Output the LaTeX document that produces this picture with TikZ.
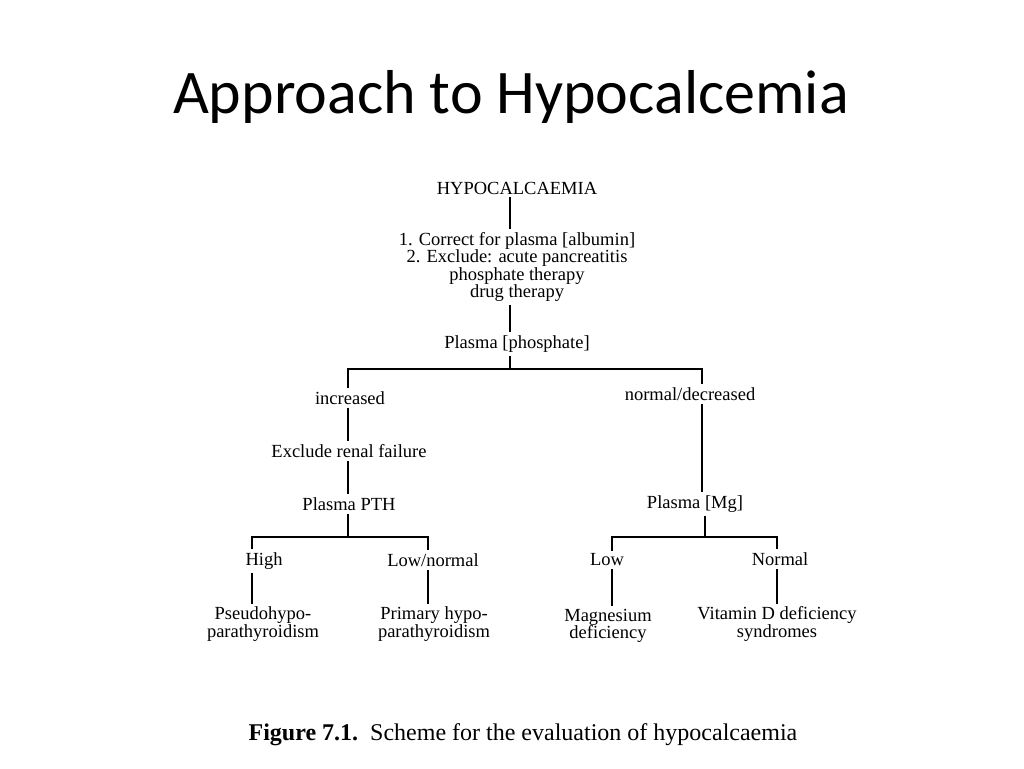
\documentclass[tikz,border=0pt]{standalone}
\usepackage{fontspec}
\setmainfont{Liberation Serif}
\newfontfamily\titlefont{Carlito}
\begin{document}
\begin{tikzpicture}[x=1pt,y=-1pt,
  lbl/.style={font=\fontsize{18.5}{17.5}\selectfont, inner sep=3pt, align=center},
  ln/.style={line width=1.2pt, black}]
\useasboundingbox (0,0) rectangle (1024,768);
\fill[white] (0,0) rectangle (1024,768);
\node[font=\titlefont\fontsize{62}{70}\selectfont] (title) at (511,97) {Approach to Hypocalcemia};
% column coordinates
\coordinate (cx) at (510,0);
\coordinate (lx) at (348,0);
\coordinate (rx) at (702,0);
\coordinate (hx) at (252,0);
\coordinate (lnx) at (428,0);
\coordinate (mlx) at (612,0);
\coordinate (mnx) at (777,0);
\coordinate (mx) at (705,0);
\coordinate (bar1) at (0,369);
\coordinate (bar2) at (0,537);
% nodes
\node[lbl] (hyp) at (517,188) {HYPOCALCAEMIA};
\node[lbl] (steps) at (517,267) {1. Correct for plasma [albumin]\\2. Exclude: acute pancreatitis\\phosphate therapy\\drug therapy};
\node[lbl] (pp) at (517,344) {Plasma [phosphate]};
\node[lbl] (inc) at (350,398) {increased};
\node[lbl] (nd) at (690,394) {normal/decreased};
\node[lbl] (ren) at (349,451) {Exclude renal failure};
\node[lbl] (pth) at (349,504) {Plasma PTH};
\node[lbl] (mg) at (695,504) {Plasma [Mg]};
\node[lbl] (high) at (264,561) {High};
\node[lbl] (lown) at (433,560) {Low/normal};
\node[lbl] (low) at (607,560) {Low};
\node[lbl] (norm) at (780,559) {Normal};
\node[lbl] (pseudo) at (263,624) {Pseudohypo-\\parathyroidism};
\node[lbl] (prim) at (434,624) {Primary hypo-\\parathyroidism};
\node[lbl] (magd) at (608,626) {Magnesium\\deficiency};
\node[lbl] (vitd) at (777,624) {Vitamin D deficiency\\syndromes};
\node[font=\fontsize{24}{26}\selectfont, inner sep=2pt] (cap) at (523,735) {\textbf{Figure 7.1.}\enspace Scheme for the evaluation of hypocalcaemia};
% connectors
\draw[ln] (hyp.south -| cx) -- (steps.north -| cx);
\draw[ln] (steps.south -| cx) -- (pp.north -| cx);
\draw[ln] (pp.south -| cx) -- (cx |- bar1);
\draw[ln] (inc.north -| lx) -- (lx |- bar1) -- (rx |- bar1) -- (nd.north -| rx);
\draw[ln] (inc.south -| lx) -- (ren.north -| lx);
\draw[ln] (ren.south -| lx) -- (pth.north -| lx);
\draw[ln] (nd.south -| rx) -- (mg.north -| rx);
\draw[ln] (pth.south -| lx) -- (lx |- bar2);
\draw[ln] (high.north -| hx) -- (hx |- bar2) -- (lnx |- bar2) -- (lown.north -| lnx);
\draw[ln] (mg.south -| mx) -- (mx |- bar2);
\draw[ln] (low.north -| mlx) -- (mlx |- bar2) -- (mnx |- bar2) -- (norm.north -| mnx);
\draw[ln] (high.south -| hx) -- (pseudo.north -| hx);
\draw[ln] (lown.south -| lnx) -- (prim.north -| lnx);
\draw[ln] (low.south -| mlx) -- (magd.north -| mlx);
\draw[ln] (norm.south -| mnx) -- (vitd.north -| mnx);
\end{tikzpicture}
\end{document}
